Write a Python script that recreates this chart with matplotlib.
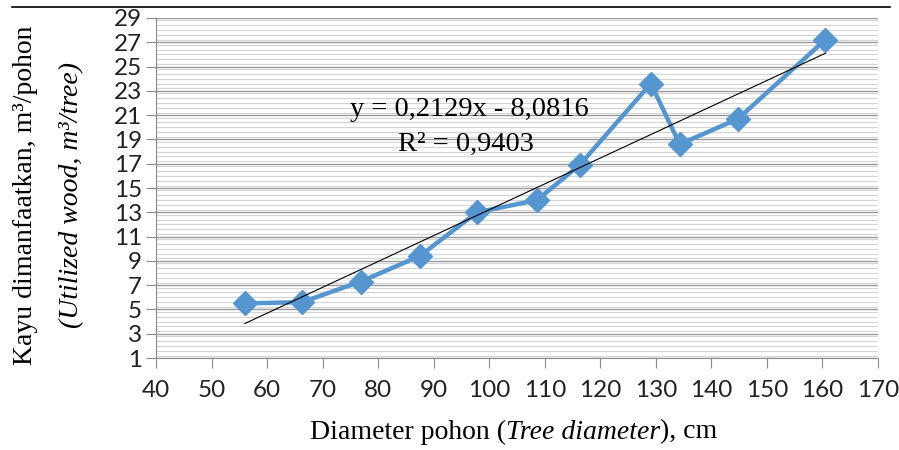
import matplotlib
matplotlib.use("Agg")
import matplotlib.pyplot as plt
from matplotlib.ticker import MultipleLocator
from matplotlib.lines import Line2D
import numpy as np

# tree diameter (cm) vs utilized wood (m3/tree)
diameter = [56.0, 66.3, 76.9, 87.5, 97.8, 108.6, 116.3, 129.1, 134.3, 144.8, 160.5]
wood = [5.5, 5.6, 7.3, 9.4, 13.0, 14.0, 16.9, 23.6, 18.6, 20.7, 27.2]
slope, intercept = 0.2129, -8.0816
eq_text = "y = 0,2129x - 8,0816"
r2_text = "R² = 0,9403"

blue = "#5596d0"
serif = "Liberation Serif"
sans = "Lato"

fig = plt.figure(figsize=(8.99, 4.5), dpi=100)
ax = fig.add_axes([0.1735, 0.2044, 0.8031, 0.7556])

ax.plot(diameter, wood, color=blue, lw=3.2, marker="D", ms=12,
        mfc=blue, mec=blue, zorder=3)
xt = np.array([diameter[0], diameter[-1]])
ax.plot(xt, slope * xt + intercept, color="black", lw=0.8, zorder=4)

ax.set_xlim(40, 170)
ax.set_ylim(1, 29)
ax.xaxis.set_major_locator(MultipleLocator(10))
ax.set_yticks(np.arange(1, 30, 2))
ax.yaxis.set_minor_locator(MultipleLocator(0.4))
ax.grid(axis="y", which="major", color="#9a9a9a", lw=1.0)
ax.grid(axis="y", which="minor", color="#d4d4d4", lw=0.8)
ax.set_axisbelow(True)

for s in ("top", "right"):
    ax.spines[s].set_visible(False)
for s in ("left", "bottom"):
    ax.spines[s].set_color("#8c8c8c")
ax.tick_params(axis="both", which="major", direction="out", length=7,
               color="#8c8c8c", labelsize=17.5, colors="#222222")
ax.tick_params(axis="x", pad=9)
ax.tick_params(axis="y", pad=3)
ax.tick_params(axis="y", which="minor", length=0)
for lab in ax.get_xticklabels() + ax.get_yticklabels():
    lab.set_fontfamily(sans)

ax.text(96.5, 21.5, eq_text, ha="center", va="center", fontsize=20.5, family=serif)
ax.text(95.8, 18.6, r2_text, ha="center", va="center", fontsize=20.5, family=serif)

# x label in three pieces (roman / italic / roman)
t1 = fig.text(0.345, 0.04, "Diameter pohon (", ha="left", va="center",
              fontsize=20, family=serif)
t2 = ax.annotate("Tree diameter", xy=(1, 0), xycoords=t1, ha="left", va="bottom",
                 fontsize=20, family=serif, style="italic", annotation_clip=False)
ax.annotate("), cm", xy=(1, 0), xycoords=t2, ha="left", va="bottom",
            fontsize=20, family=serif, annotation_clip=False)

fig.text(0.028, 0.567, "Kayu dimanfaatkan, m³/pohon", rotation=90,
         ha="center", va="center", fontsize=20, family=serif)
fig.text(0.08, 0.567, "(Utilized wood, m³/tree)", rotation=90,
         ha="center", va="center", fontsize=20, family=serif, style="italic")

fig.add_artist(Line2D([0.013, 0.99], [0.985, 0.985], color="black", lw=1.2,
                      transform=fig.transFigure))

fig.savefig("out.png", dpi=100)
